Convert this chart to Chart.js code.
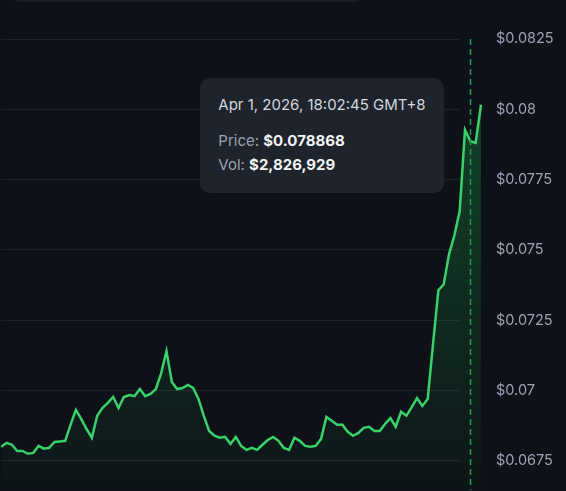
<!DOCTYPE html>
<html>
<head>
<meta charset="utf-8">
<script src="https://cdn.jsdelivr.net/npm/chart.js@4.4.1/dist/chart.umd.min.js"></script>
<style>
  html, body { margin: 0; padding: 0; background: #0e1117; overflow: hidden; }
  #wrap { position: relative; width: 566px; height: 491px; }
  #topbar { position: absolute; left: 12px; top: -20px; width: 351px; height: 22px; background: #1a1e26; border-radius: 8px; }
  #tip {
    position: absolute; display: none; background: #1e232c; border-radius: 10px;
    padding: 17px 18px 16px 18px; font-family: Inter, "Noto Sans", sans-serif; font-size: 15px;
    white-space: nowrap; pointer-events: none;
  }
  #tip .t { color: #d3d7de; line-height: 20px; margin-bottom: 14px; }
  #tip .r { color: #9ca3af; line-height: 24px; }
  #tip .r b { color: #f3f4f6; font-weight: 700; }
</style>
</head>
<body>
<div id="wrap">
  <canvas id="myChart" width="566" height="491"></canvas>
  <div id="topbar"></div>
  <div id="tip"></div>
</div>
<script>
// price samples, oldest -> newest
const prices = [
  0.06800, 0.06814, 0.06807, 0.06785, 0.06785, 0.06775, 0.06778, 0.06803, 0.06793, 0.06796,
  0.06817, 0.06819, 0.06821, 0.06878, 0.06931, 0.06899, 0.06863, 0.06832, 0.06910, 0.06938,
  0.06956, 0.06977, 0.06938, 0.06977, 0.06984, 0.06980, 0.07005, 0.06980, 0.06988, 0.07005,
  0.07062, 0.07140, 0.07030, 0.07005, 0.07009, 0.07020, 0.07009, 0.06970, 0.06910, 0.06856,
  0.06839, 0.06832, 0.06835, 0.06810, 0.06835, 0.06803, 0.06789, 0.06796, 0.06789, 0.06807,
  0.06824, 0.06835, 0.06821, 0.06796, 0.06789, 0.06832, 0.06821, 0.06803, 0.06800, 0.06803,
  0.06828, 0.06906, 0.06892, 0.06878, 0.06878, 0.06853, 0.06839, 0.06849, 0.06867, 0.06871,
  0.06856, 0.06856, 0.06881, 0.06902, 0.06871, 0.06924, 0.06910, 0.06941, 0.06973, 0.06945,
  0.06970, 0.07165, 0.07356, 0.07378, 0.07484, 0.07551, 0.07637, 0.07927, 0.078868, 0.07881,
  0.08016
];
const labels = prices.map((p, i) => i);

const tickValues = [0.0675, 0.07, 0.0725, 0.075, 0.0775, 0.08, 0.0825];
const tickLabels = ['$0.0675', '$0.07', '$0.0725', '$0.075', '$0.0775', '$0.08', '$0.0825'];
const yMin = 0.06647;
const yMax = 0.0825;

// hovered point shown in the tooltip
const hoverIndex = 88;
const hoverTime = 'Apr 1, 2026, 18:02:45 GMT+8';
const hoverVol = 2826929;

function externalTip(context) {
  const tip = document.getElementById('tip');
  const model = context.tooltip;
  if (model.opacity === 0 || !model.dataPoints || !model.dataPoints.length) {
    tip.style.display = 'none';
    return;
  }
  const i = model.dataPoints[0].dataIndex;
  tip.innerHTML =
    '<div class="t">' + hoverTime + '</div>' +
    '<div class="r">Price: <b>$' + prices[i].toFixed(6) + '</b></div>' +
    '<div class="r">Vol: <b>$' + hoverVol.toLocaleString('en-US') + '</b></div>';
  tip.style.display = 'block';
  tip.style.left = (model.caretX - 27 - tip.offsetWidth) + 'px';
  tip.style.top = (model.caretY - tip.offsetHeight / 2 - 6) + 'px';
}

const crosshair = {
  id: 'crosshair',
  afterDatasetsDraw(chart) {
    const act = chart.tooltip.getActiveElements();
    if (!act.length) return;
    const x = Math.round(act[0].element.x) + 0.5;
    const { top, bottom } = chart.chartArea;
    const ctx = chart.ctx;
    ctx.save();
    ctx.setLineDash([6, 4]);
    ctx.strokeStyle = '#1f9a4a';
    ctx.lineWidth = 1.5;
    ctx.beginPath();
    ctx.moveTo(x, top);
    ctx.lineTo(x, bottom);
    ctx.stroke();
    ctx.restore();
  }
};

const config = {
  type: 'line',
  data: {
    labels: labels,
    datasets: [{
      data: prices,
      borderColor: '#38d16a',
      borderWidth: 2.5,
      tension: 0,
      pointRadius: 0,
      pointHoverRadius: 0,
      fill: 'start',
      backgroundColor: (c) => {
        const a = c.chart.chartArea;
        if (!a) return 'transparent';
        const g = c.chart.ctx.createLinearGradient(0, a.top, 0, a.bottom);
        g.addColorStop(0, 'rgba(34,197,94,0.32)');
        g.addColorStop(1, 'rgba(34,197,94,0.02)');
        return g;
      }
    }]
  },
  options: {
    responsive: false,
    devicePixelRatio: 1,
    animation: false,
    layout: { padding: { top: 39, left: 0, right: 0, bottom: 0 } },
    interaction: { mode: 'index', intersect: false },
    plugins: {
      legend: { display: false },
      tooltip: { enabled: false, external: externalTip }
    },
    scales: {
      x: { display: false, offset: false },
      y: {
        position: 'right',
        min: yMin,
        max: yMax,
        border: { display: false },
        grid: {
          drawTicks: false,
          lineWidth: 1,
          color: (c) => {
            const a = c.chart.chartArea;
            if (!a) return '#1e232b';
            const g = c.chart.ctx.createLinearGradient(a.left, 0, a.right, 0);
            const stop = (a.right - a.left - 21) / (a.right - a.left);
            g.addColorStop(0, '#1e232b');
            g.addColorStop(stop, '#1e232b');
            g.addColorStop(stop + 0.001, 'rgba(30,35,43,0)');
            g.addColorStop(1, 'rgba(30,35,43,0)');
            return g;
          }
        },
        afterBuildTicks: (scale) => {
          scale.ticks = tickValues.map(v => ({ value: v }));
        },
        afterFit: (scale) => {
          scale.width = 85;
          scale.paddingTop = 0;
          scale.paddingBottom = 0;
        },
        ticks: {
          padding: 15,
          color: '#9ba4b6',
          font: { family: 'Inter, "Noto Sans", sans-serif', size: 14.5 },
          callback: (v) => tickLabels[tickValues.indexOf(v)]
        }
      }
    }
  },
  plugins: [crosshair]
};

const myChart = new Chart(document.getElementById('myChart'), config);
myChart.setActiveElements([{ datasetIndex: 0, index: hoverIndex }]);
myChart.tooltip.setActiveElements([{ datasetIndex: 0, index: hoverIndex }], { x: 0, y: 0 });
myChart.update();
</script>
</body>
</html>
